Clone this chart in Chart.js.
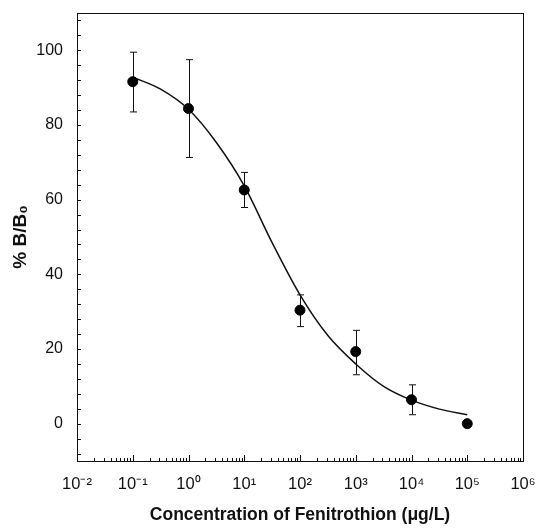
<!DOCTYPE html>
<html>
<head>
<meta charset="utf-8">
<script src="https://cdn.jsdelivr.net/npm/chart.js@4"></script>
<style>
  html, body { margin: 0; padding: 0; background: #fff; }
  canvas { display: block; }
</style>
</head>
<body>
<canvas id="fenChart" width="536" height="530"></canvas>
<script>
// ================================
// DATA
// ================================
const concentrations = [0.1, 1, 10, 100, 1000, 10000, 100000];
const meanBB0 = [91.6, 84.4, 62.6, 30.4, 19.3, 6.4, 0];
const errUpper = [99.5, 97.5, 67.3, 34.5, 25.0, 10.4, null];
const errLower = [83.5, 71.3, 57.9, 26.0, 13.1, 2.4, null];

// fitted curve, sampled every half decade
const fitX = [0.1, 0.316, 1, 3.16, 10, 31.6, 100, 316, 1000, 3162, 10000, 31623, 100000];
const fitY = [92.8, 89.6, 84.2, 75.3, 63.7, 48.5, 34.5, 23.6, 16.0, 10.0, 6.3, 3.9, 2.4];

const xTickValues = [0.01, 0.1, 1, 10, 100, 1000, 10000, 100000, 1000000];
const xTickLabels = ["10\u207B\u00B2", "10\u207B\u00B9", "10\u2070", "10\u00B9", "10\u00B2",
                     "10\u00B3", "10\u2074", "10\u2075", "10\u2076"];
const yTickValues = [0, 20, 40, 60, 80, 100];

const FONT = "'Liberation Sans', Arial, sans-serif";
const INK = "#111";

// ================================
// PLUGINS
// ================================
// vertical error bars with caps, behind the points
const errorBars = {
  id: "errorBars",
  beforeDatasetsDraw(chart) {
    const { ctx, scales: { x, y } } = chart;
    ctx.save();
    ctx.strokeStyle = INK;
    ctx.lineWidth = 1;
    concentrations.forEach((c, i) => {
      if (errUpper[i] == null) return;
      const px = Math.round(x.getPixelForValue(c)) + 0.5;
      const top = y.getPixelForValue(errUpper[i]);
      const bot = y.getPixelForValue(errLower[i]);
      ctx.beginPath();
      ctx.moveTo(px, top); ctx.lineTo(px, bot);
      ctx.moveTo(px - 3.5, top); ctx.lineTo(px + 3.5, top);
      ctx.moveTo(px - 3.5, bot); ctx.lineTo(px + 3.5, bot);
      ctx.stroke();
    });
    ctx.restore();
  }
};

// frame + inward tick marks
const frameTicks = {
  id: "frameTicks",
  afterDraw(chart) {
    const { ctx, chartArea: a, scales: { x, y } } = chart;
    ctx.save();
    ctx.strokeStyle = INK;
    ctx.lineWidth = 1;
    ctx.strokeRect(Math.round(a.left) + 0.5, Math.round(a.top) + 0.5,
                   Math.round(a.right - a.left), Math.round(a.bottom - a.top));
    ctx.beginPath();
    // x: decades long, 2..9 short
    for (let d = -2; d <= 6; d++) {
      for (let k = 1; k <= 9; k++) {
        const v = k * Math.pow(10, d);
        if (v > 1e6) break;
        const px = Math.round(x.getPixelForValue(v)) + 0.5;
        const len = k === 1 ? 6 : 3;
        ctx.moveTo(px, a.bottom); ctx.lineTo(px, a.bottom - len);
      }
    }
    // y: every 4 units
    for (let v = -8; v <= 108; v += 4) {
      const py = Math.round(y.getPixelForValue(v)) + 0.5;
      ctx.moveTo(a.left, py); ctx.lineTo(a.left + 4, py);
    }
    ctx.stroke();
    ctx.restore();
  }
};

function noPad(s) {
  s.paddingTop = 0; s.paddingBottom = 0;
  s.paddingLeft = 0; s.paddingRight = 0;
}

// ================================
// CHART
// ================================
new Chart(document.getElementById("fenChart"), {
  type: "scatter",
  data: {
    datasets: [
      {
        label: "Fit",
        data: fitX.map((v, i) => ({ x: v, y: fitY[i] })),
        showLine: true,
        borderColor: INK,
        borderWidth: 1.5,
        pointRadius: 0,
        cubicInterpolationMode: "monotone",
        order: 2
      },
      {
        label: "% B/B0",
        data: concentrations.map((v, i) => ({ x: v, y: meanBB0[i] })),
        backgroundColor: "#000",
        borderColor: "#000",
        pointRadius: 5,
        order: 1
      }
    ]
  },
  options: {
    responsive: false,
    animation: false,
    layout: { padding: { top: 13, right: 13, left: 0, bottom: 0 } },
    plugins: { legend: { display: false }, tooltip: { enabled: false } },
    scales: {
      x: {
        type: "logarithmic",
        min: 0.01,
        max: 1000000,
        grid: { display: false },
        border: { display: false },
        afterBuildTicks: s => { s.ticks = xTickValues.map(v => ({ value: v })); },
        afterFit: s => { s.height = 69; noPad(s); },
        ticks: {
          autoSkip: false,
          maxRotation: 0,
          padding: 6,
          color: INK,
          font: { family: FONT, size: 16.5 },
          callback: (v, i) => xTickLabels[i]
        },
        title: {
          display: true,
          text: "Concentration of Fenitrothion (\u03BCg/L)",
          color: INK,
          font: { family: FONT, size: 17.5, weight: "bold" },
          padding: { top: 0, bottom: 4 }
        }
      },
      y: {
        min: -10,
        max: 110,
        grid: { display: false },
        border: { display: false },
        afterBuildTicks: s => { s.ticks = yTickValues.map(v => ({ value: v })); },
        afterFit: s => { s.width = 77; noPad(s); },
        ticks: {
          padding: 6,
          color: INK,
          font: { family: FONT, size: 16 }
        },
        title: {
          display: true,
          text: "% B/B\u2080",
          color: INK,
          font: { family: FONT, size: 19, weight: "bold" },
          padding: { top: 9, bottom: 0 }
        }
      }
    }
  },
  plugins: [errorBars, frameTicks]
});
</script>
</body>
</html>
